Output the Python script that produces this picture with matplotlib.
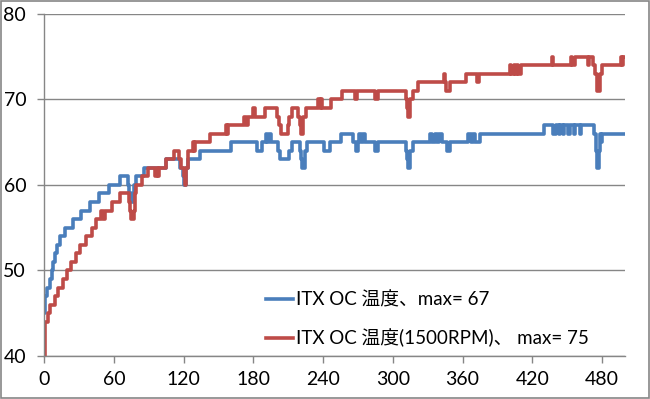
import matplotlib
matplotlib.use("Agg")
import matplotlib.pyplot as plt
from matplotlib.patches import Rectangle

# step change points (seconds, temperature)
blue_t = [0, 1, 2, 5, 7, 8, 9, 11, 14, 18, 25, 32, 39, 47, 56, 65, 72, 73, 75, 77, 79, 86,
          105, 117, 119, 120, 122, 124, 134, 161, 183, 187, 191, 192, 193, 195, 201, 203,
          211, 213, 220, 221, 222, 224, 226, 241, 246, 255, 266, 268, 270, 271, 273, 274,
          276, 285, 287, 311, 312, 313, 315, 317, 332, 334, 336, 338, 340, 342, 347, 349,
          365, 367, 369, 371, 375, 430, 438, 440, 443, 444, 446, 447, 451, 452, 456, 457,
          461, 462, 473, 475, 476, 477, 478, 479, 480, 500]
blue_v = [45, 47, 48, 49, 50, 51, 52, 53, 54, 55, 56, 57, 58, 59, 60, 61, 60, 59, 58, 60, 61, 62,
          63, 62, 61, 60, 62, 63, 64, 65, 64, 65, 66, 65, 66, 65, 64, 63,
          64, 65, 64, 63, 62, 64, 65, 64, 65, 66, 65, 64, 65, 66, 65, 66,
          65, 64, 65, 64, 63, 62, 64, 65, 66, 65, 66, 65, 66, 65, 64, 65,
          66, 65, 66, 65, 66, 67, 66, 67, 66, 67, 66, 67, 66, 67, 66, 67,
          66, 67, 66, 64, 62, 64, 66, 65, 66, 66]

red_t = [0, 1, 3, 5, 9, 12, 16, 20, 23, 27, 31, 36, 41, 45, 49, 51, 52, 58, 65, 73, 74, 75,
         77, 78, 79, 84, 89, 95, 97, 98, 99, 105, 112, 116, 118, 120, 121, 122, 124, 128,
         129, 130, 143, 156, 157, 158, 172, 174, 175, 180, 181, 190, 200, 202, 204, 210,
         211, 213, 218, 220, 221, 223, 225, 236, 237, 238, 239, 247, 256, 267, 269, 285,
         287, 311, 312, 313, 315, 317, 322, 344, 345, 346, 349, 363, 372, 374, 401, 402,
         404, 405, 407, 408, 410, 437, 438, 453, 454, 457, 468, 469, 472, 474, 476, 478,
         480, 496, 497, 498, 500]
red_v = [40, 44, 45, 46, 47, 48, 49, 50, 51, 52, 53, 54, 55, 56, 57, 56, 57, 58, 59, 58, 57, 56,
         57, 59, 60, 61, 62, 61, 62, 61, 62, 63, 64, 63, 62, 61, 60, 62, 64, 65,
         64, 65, 66, 67, 66, 67, 68, 67, 68, 69, 68, 69, 68, 67, 66, 67,
         68, 69, 68, 67, 66, 68, 69, 70, 69, 70, 69, 70, 71, 70, 71, 70,
         71, 70, 69, 68, 70, 71, 72, 73, 72, 71, 72, 73, 72, 73, 74, 73,
         74, 73, 74, 73, 74, 75, 74, 75, 74, 75, 74, 75, 74, 73, 71, 73,
         74, 75, 74, 75, 75]

x_ticks = [0, 60, 120, 180, 240, 300, 360, 420, 480]
y_ticks = [40, 50, 60, 70, 80]
labels = ["ITX OC 温度、max= 67", "ITX OC 温度(1500RPM)、 max= 75"]

plt.rcParams["font.family"] = ["Lato", "Noto Sans CJK JP", "DejaVu Sans"]
grey = "#868686"

fig = plt.figure(figsize=(6.5, 3.99), dpi=100)
ax = fig.add_axes([0.068, 0.108, 0.894, 0.857])

ax.step(blue_t, blue_v, where="post", color="#4a7ebb", lw=2.6, label=labels[0])
ax.step(red_t, red_v, where="post", color="#be4b48", lw=2.6, label=labels[1])

ax.set_xlim(0, 500)
ax.set_ylim(40, 80)
ax.set_xticks(x_ticks)
ax.set_yticks(y_ticks)
ax.yaxis.grid(True, color=grey, lw=1)
ax.set_axisbelow(True)
for s in ["top", "right"]:
    ax.spines[s].set_visible(False)
for s in ["left", "bottom"]:
    ax.spines[s].set_color(grey)
    ax.spines[s].set_linewidth(1)
ax.tick_params(axis="both", colors=grey, labelcolor="black", labelsize=14, length=5, width=1)
ax.tick_params(axis="x", pad=6)
ax.tick_params(axis="y", pad=8)

ax.legend(loc="lower left", bbox_to_anchor=(0.352, -0.025), frameon=False, fontsize=13.5,
          handlelength=1.45, handletextpad=0.15, labelspacing=1.1)

fig.patches.append(Rectangle((0.001, 0.002), 0.997, 0.996, transform=fig.transFigure,
                             fill=False, edgecolor=grey, lw=1.2))

fig.savefig("out.png", dpi=100)
